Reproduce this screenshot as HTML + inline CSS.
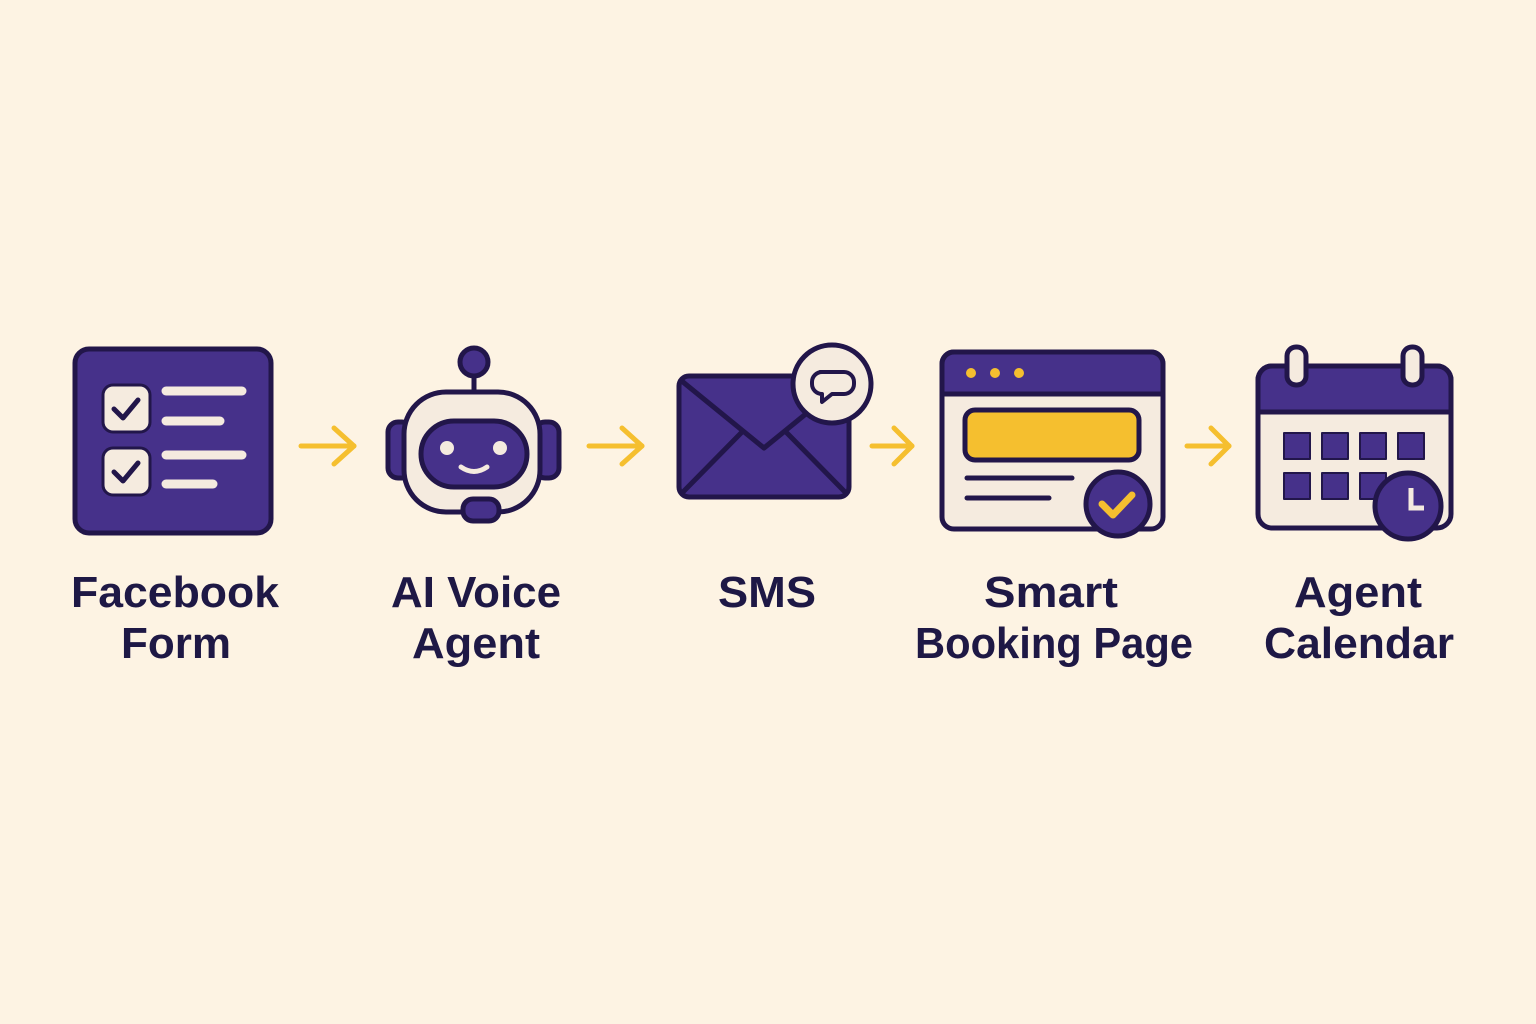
<!DOCTYPE html>
<html><head><meta charset="utf-8"><style>html,body{margin:0;padding:0;background:#fdf3e3}svg{display:block}</style></head>
<body>
<svg width="1536" height="1024" viewBox="0 0 1536 1024" xmlns="http://www.w3.org/2000/svg">
<rect width="1536" height="1024" fill="#fdf3e3"/>
<g stroke="#22164a" stroke-width="5" stroke-linecap="round" stroke-linejoin="round">
<!-- Form -->
<rect x="75" y="349" width="196" height="184" rx="14" fill="#46318a"/>
<rect x="103" y="385" width="47" height="47" rx="10" fill="#f5ebdf" stroke-width="3"/>
<rect x="103" y="448" width="47" height="47" rx="10" fill="#f5ebdf" stroke-width="3"/>
<polyline points="114,409 123,418 138,400" fill="none" stroke-width="5"/>
<polyline points="114,472 123,481 138,463" fill="none" stroke-width="5"/>
<g stroke="#f5ebdf" stroke-width="9"><line x1="166" y1="391" x2="242" y2="391"/><line x1="166" y1="421" x2="220" y2="421"/><line x1="166" y1="455" x2="242" y2="455"/><line x1="166" y1="484" x2="213" y2="484"/></g>
<!-- Robot -->
<line x1="474" y1="370" x2="474" y2="394"/>
<circle cx="474" cy="362" r="14" fill="#46318a"/>
<rect x="388" y="422" width="24" height="56" rx="10" fill="#46318a"/>
<rect x="535" y="422" width="24" height="56" rx="10" fill="#46318a"/>
<rect x="404" y="392" width="136" height="120" rx="42" fill="#f5ebdf"/>
<rect x="421" y="421" width="106" height="66" rx="33" fill="#46318a"/>
<circle cx="447" cy="448" r="7" fill="#f5ebdf" stroke="none"/>
<circle cx="500" cy="448" r="7" fill="#f5ebdf" stroke="none"/>
<path d="M461 467 Q474 476 487 467" fill="none" stroke="#f5ebdf" stroke-width="5"/>
<rect x="463" y="499" width="36" height="22" rx="10" fill="#46318a"/>
<!-- Envelope -->
<rect x="679" y="376" width="170" height="121" rx="10" fill="#46318a"/>
<polyline points="683,382 764,448 845,382" fill="none"/>
<line x1="683" y1="492" x2="742" y2="432"/><line x1="845" y1="492" x2="786" y2="432"/>
<circle cx="832" cy="384" r="39" fill="#f5ebdf"/>
<path d="M820 372 h24 a10 10 0 0 1 10 10 v2 a10 10 0 0 1 -10 10 h-12 l-10 8 v-8 a10 10 0 0 1 -10 -10 v-2 a10 10 0 0 1 10 -10z" fill="#f5ebdf" stroke-width="4"/>
<!-- Browser -->
<rect x="942" y="352" width="221" height="177" rx="12" fill="#f5ebdf"/>
<path d="M954 352 h197 a12 12 0 0 1 12 12 v30 h-221 v-30 a12 12 0 0 1 12 -12z" fill="#46318a"/>
<circle cx="971" cy="373" r="5" fill="#f5bf2f" stroke="none"/><circle cx="995" cy="373" r="5" fill="#f5bf2f" stroke="none"/><circle cx="1019" cy="373" r="5" fill="#f5bf2f" stroke="none"/>
<rect x="965" y="410" width="174" height="50" rx="10" fill="#f5bf2f"/>
<line x1="967" y1="478" x2="1072" y2="478"/><line x1="967" y1="498" x2="1049" y2="498"/>
<circle cx="1118" cy="504" r="32" fill="#46318a"/>
<polyline points="1102,504 1113,515 1132,495" fill="none" stroke="#f5bf2f" stroke-width="7"/>
<!-- Calendar -->
<rect x="1258" y="366" width="193" height="162" rx="14" fill="#f5ebdf"/>
<path d="M1272 366 h165 a14 14 0 0 1 14 14 v32 h-193 v-32 a14 14 0 0 1 14 -14z" fill="#46318a"/>
<rect x="1287" y="347" width="19" height="38" rx="9" fill="#f5ebdf"/>
<rect x="1403" y="347" width="19" height="38" rx="9" fill="#f5ebdf"/>
<g fill="#46318a" stroke-width="2">
<rect x="1284" y="433" width="26" height="26"/><rect x="1322" y="433" width="26" height="26"/><rect x="1360" y="433" width="26" height="26"/><rect x="1398" y="433" width="26" height="26"/>
<rect x="1284" y="473" width="26" height="26"/><rect x="1322" y="473" width="26" height="26"/><rect x="1360" y="473" width="26" height="26"/>
</g>
<circle cx="1408" cy="506" r="33" fill="#46318a"/>
<polyline points="1411,488 1411,508 1424,508" fill="none" stroke="#f5ebdf" stroke-width="5" stroke-linecap="butt" stroke-linejoin="miter"/>
</g>
<!-- Arrows -->
<g stroke="#f5bf2f" stroke-width="5" stroke-linecap="round" stroke-linejoin="round" fill="none">
<line x1="301" y1="446" x2="354" y2="446"/><polyline points="334,428 354,446 334,464"/>
<line x1="589" y1="446" x2="642" y2="446"/><polyline points="622,428 642,446 622,464"/>
<line x1="872" y1="446" x2="912" y2="446"/><polyline points="894,428 912,446 894,464"/>
<line x1="1187" y1="446" x2="1229" y2="446"/><polyline points="1211,428 1229,446 1211,464"/>
</g>
<g font-family="Liberation Sans, sans-serif" font-size="44" fill="#1e1845" text-anchor="middle" font-weight="bold" lengthAdjust="spacingAndGlyphs">
<text x="175" y="607" textLength="208" lengthAdjust="spacingAndGlyphs">Facebook</text>
<text x="176" y="658" textLength="110" lengthAdjust="spacingAndGlyphs">Form</text>
<text x="476" y="607" textLength="170" lengthAdjust="spacingAndGlyphs">AI Voice</text>
<text x="476" y="658" textLength="128" lengthAdjust="spacingAndGlyphs">Agent</text>
<text x="767" y="607" textLength="98" lengthAdjust="spacingAndGlyphs">SMS</text>
<text x="1051" y="607" textLength="134" lengthAdjust="spacingAndGlyphs">Smart</text>
<text x="1054" y="658" textLength="278" lengthAdjust="spacingAndGlyphs">Booking Page</text>
<text x="1358" y="607" textLength="128" lengthAdjust="spacingAndGlyphs">Agent</text>
<text x="1359" y="658" textLength="190" lengthAdjust="spacingAndGlyphs">Calendar</text>
</g>
</svg>
</body></html>
